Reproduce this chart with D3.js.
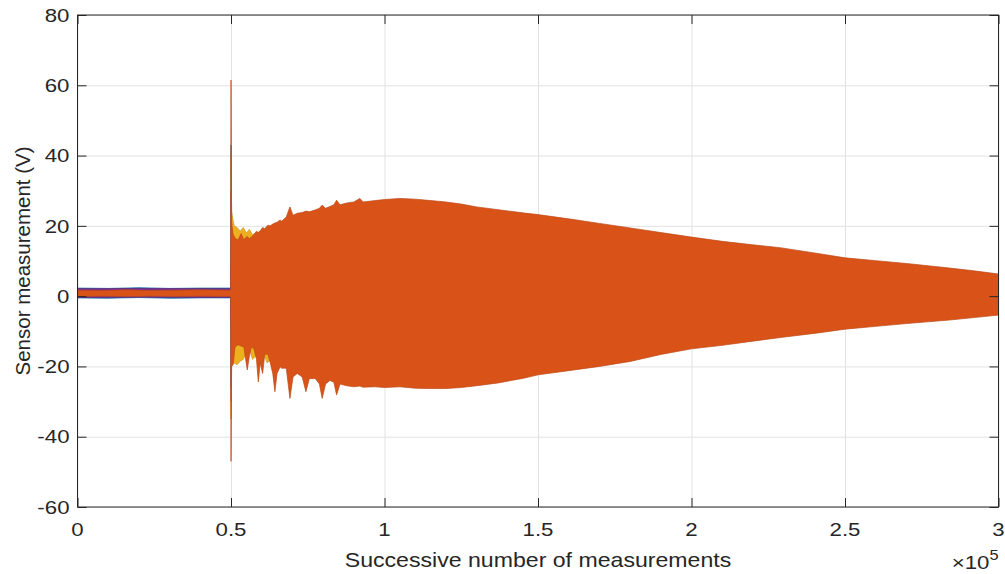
<!DOCTYPE html>
<html>
<head>
<meta charset="utf-8">
<script src="https://cdn.jsdelivr.net/npm/d3@7"></script>
<style>
  body { margin: 0; background: #fff; overflow: hidden; }
  svg { display: block; font-family: "Liberation Sans", Arial, sans-serif; }
</style>
</head>
<body>
<svg></svg>
<script>
// tick values
const xTicks = [0, 50000, 100000, 150000, 200000, 250000, 300000];
const xTickLabels = ['0', '0.5', '1', '1.5', '2', '2.5', '3'];
const yTicks = [-60, -40, -20, 0, 20, 40, 60, 80];

const blueX  = [0, 10000, 20000, 30000, 40000, 49900, 50000, 50300, 60000, 100000, 200000, 300000];
const blueHi = [2.3, 2.2, 2.4, 2.2, 2.3, 2.3, 43, 14, 15, 20, 12, 4];
const blueLo = [-0.5, -0.6, -0.4, -0.6, -0.5, -0.5, -26, -10, -12, -18, -10, -3];

const purpleX  = [0, 20000, 49900, 50000, 50300, 100000, 300000];
const purpleHi = [2.1, 2.2, 2.1, 30, 12, 18, 3];
const purpleLo = [-0.4, -0.3, -0.4, -30, -10, -16, -2];

const yellowX  = [50000, 50200, 51000, 52000, 53000, 54000, 55000, 56000, 57000, 58000, 59000, 60000,
                  61800, 63000, 65000, 70000, 100000, 200000, 300000];
const yellowHi = [40, 24, 20, 19.5, 18.5, 19.5, 18, 19, 17.5, 18, 18.3, 18.5,
                  18, 18.5, 19, 20, 24, 14, 5];
const yellowLo = [-35, -20, -19, -19.5, -18.5, -18, -16, -15, -18, -17, -16, -15,
                  -19, -18, -16, -18, -20, -12, -4];

const orangeX = [0, 8000, 16000, 24000, 32000, 40000, 49900, 50000, 50200, 50600, 50750, 51300,
                 52300, 53300, 54200, 54600, 55300, 56000, 56600, 57500, 58300, 58900, 59500,
                 60300, 61000, 62000, 62800, 63600, 64300, 65000, 66000, 66500, 68000, 69200,
                 70200, 71600, 73200, 74400, 75500, 77400, 78800, 79700, 80800, 82200, 83500,
                 84400, 85500, 87700, 90000, 92000, 93000, 97000, 100000, 105000, 110000,
                 115000, 120000, 125000, 130000, 137000, 145000, 150000, 160000, 170000,
                 180000, 190000, 200000, 210000, 220000, 228800, 240000, 250000, 260000,
                 270000, 284000, 292000, 300000];
const orangeHi = [1.7, 1.6, 1.8, 1.6, 1.7, 1.8, 1.7, 61.5, 21, 18, 17.5, 16.5,
                  16, 17.8, 16, 16.5, 17, 16.3, 16.8, 17.5, 18.5, 18, 18.6,
                  19.5, 19.2, 20.2, 20, 20.5, 20.8, 21, 21.7, 21.3, 22.5, 25.4,
                  23, 23.6, 23.8, 24.2, 24, 24.5, 25, 25.9, 25, 25.5, 26,
                  27.3, 26, 26.5, 26.8, 27.8, 26.8, 27.2, 27.5, 27.8, 27.6,
                  27.2, 26.8, 26.2, 25.4, 24.6, 23.7, 23.2, 22, 20.7,
                  19.4, 18.1, 16.8, 15.6, 14.6, 13.8, 12.3, 10.9, 10.1,
                  9.3, 8, 7.2, 6.3];
const orangeLo = [-0.1, 0, -0.1, 0, -0.1, 0, -0.1, -47, -20, -19.5, -19, -14.5,
                  -13.8, -14.2, -14.5, -17, -21, -17, -14.5, -15, -18, -24.4, -19,
                  -22, -16.5, -16.5, -19, -22, -27.2, -22, -20.1, -20.5, -20.5, -29.1,
                  -23, -22, -23, -27.2, -23.5, -23.4, -25, -29.1, -25, -24, -24.5,
                  -28.1, -25, -25.5, -25.8, -25.6, -25.9, -25.8, -26, -25.8, -26.2,
                  -26.3, -26.3, -26, -25.5, -24.7, -23.4, -22.4, -21.2, -20,
                  -18.6, -16.6, -15, -14, -12.8, -11.8, -10.6, -9.4, -8.6,
                  -7.8, -6.8, -6.1, -5.4];

const iWidth = 1005, iHeight = 574;
const plot = {left: 77.5, right: 998.5, top: 15, bottom: 507};
const tickLen = 9;
const stretchX = 1.17; // reference glyphs are drawn a little wide

var canvas = d3.select('svg')
               .attr('width', iWidth)
               .attr('height', iHeight);

const xScale = d3.scaleLinear()
                 .domain([0, 300000])
                 .range([plot.left, plot.right]);

const yScale = d3.scaleLinear()
                 .domain([-60, 80])
                 .range([plot.bottom, plot.top]);

function bare(g, color) {
  g.select('.domain').remove();
  g.selectAll('text').remove();
  g.selectAll('line').attr('stroke', color);
}

function stretch(sel, k) {
  sel.each(function() {
    var w = this.getComputedTextLength();
    d3.select(this).attr('textLength', w * k).attr('lengthAdjust', 'spacingAndGlyphs');
  });
}

// grid
canvas.append('g')
  .call(d3.axisBottom(xScale).tickValues(xTicks).tickSize(-(plot.bottom - plot.top)))
  .attr('transform', `translate(0,${plot.bottom})`)
  .call(g => bare(g, '#e2e2e2'));
canvas.append('g')
  .call(d3.axisLeft(yScale).tickValues(yTicks).tickSize(-(plot.right - plot.left)))
  .attr('transform', `translate(${plot.left},0)`)
  .call(g => bare(g, '#e2e2e2'));

// traces
var traces = [
  {color: '#0072BD', x: blueX, hi: blueHi, lo: blueLo},
  {color: '#7E2F8E', x: purpleX, hi: purpleHi, lo: purpleLo},
  {color: '#EDB120', x: yellowX, hi: yellowHi, lo: yellowLo},
  {color: '#D95319', x: orangeX, hi: orangeHi, lo: orangeLo}
];

const area = d3.area()
               .x(d => xScale(d[0]))
               .y0(d => yScale(d[2]))
               .y1(d => yScale(d[1]));

canvas.selectAll('path.trace')
  .data(traces)
  .enter()
    .append('path')
    .attr('class', 'trace')
    .attr('d', d => area(d3.zip(d.x, d.hi, d.lo)))
    .attr('fill', d => d.color)
    .attr('stroke', d => d3.color(d.color).darker(0.4))
    .attr('stroke-width', 0.7);

// box + inward ticks on all sides
const axisColor = '#262626';
canvas.append('g')
  .call(d3.axisBottom(xScale).tickValues(xTicks).tickSize(tickLen))
  .attr('transform', `translate(0,${plot.bottom - tickLen})`)
  .call(g => bare(g, axisColor));
canvas.append('g')
  .call(d3.axisBottom(xScale).tickValues(xTicks).tickSize(tickLen))
  .attr('transform', `translate(0,${plot.top})`)
  .call(g => bare(g, axisColor));
canvas.append('g')
  .call(d3.axisLeft(yScale).tickValues(yTicks).tickSize(tickLen))
  .attr('transform', `translate(${plot.left + tickLen},0)`)
  .call(g => bare(g, axisColor));
canvas.append('g')
  .call(d3.axisLeft(yScale).tickValues(yTicks).tickSize(tickLen))
  .attr('transform', `translate(${plot.right},0)`)
  .call(g => bare(g, axisColor));

canvas.append('rect')
  .attr('x', plot.left)
  .attr('y', plot.top)
  .attr('width', plot.right - plot.left)
  .attr('height', plot.bottom - plot.top)
  .attr('fill', 'none')
  .attr('stroke', axisColor)
  .attr('stroke-width', 1);

// tick labels
canvas.append('g').selectAll('text')
  .data(xTicks)
  .enter()
    .append('text')
    .attr('x', d => xScale(d))
    .attr('y', plot.bottom + 29)
    .attr('text-anchor', 'middle')
    .attr('font-size', 19)
    .attr('fill', axisColor)
    .text((d, i) => xTickLabels[i])
    .call(s => stretch(s, stretchX));

canvas.append('g').selectAll('text')
  .data(yTicks)
  .enter()
    .append('text')
    .attr('x', plot.left - 8)
    .attr('y', d => yScale(d))
    .attr('dy', '0.35em')
    .attr('text-anchor', 'end')
    .attr('font-size', 19)
    .attr('fill', axisColor)
    .text(d => d)
    .call(s => stretch(s, stretchX));

// exponent
var expo = canvas.append('text')
  .attr('transform', `translate(${plot.right},${plot.bottom + 62}) scale(${stretchX},1)`)
  .attr('text-anchor', 'end')
  .attr('font-size', 19)
  .attr('fill', axisColor);
expo.append('tspan').text('\u00d710');
expo.append('tspan').attr('font-size', 14).attr('dy', -9).text('5');

// axis labels
canvas.append('text')
  .attr('x', (plot.left + plot.right) / 2)
  .attr('y', plot.bottom + 60)
  .attr('text-anchor', 'middle')
  .attr('font-size', 21)
  .attr('fill', axisColor)
  .text('Successive number of measurements')
  .call(s => stretch(s, 1.1));

canvas.append('text')
  .attr('transform', `translate(${plot.left - 48},${(plot.top + plot.bottom) / 2}) rotate(-90)`)
  .attr('text-anchor', 'middle')
  .attr('font-size', 20.5)
  .attr('fill', axisColor)
  .text('Sensor measurement (V)');
</script>
</body>
</html>
